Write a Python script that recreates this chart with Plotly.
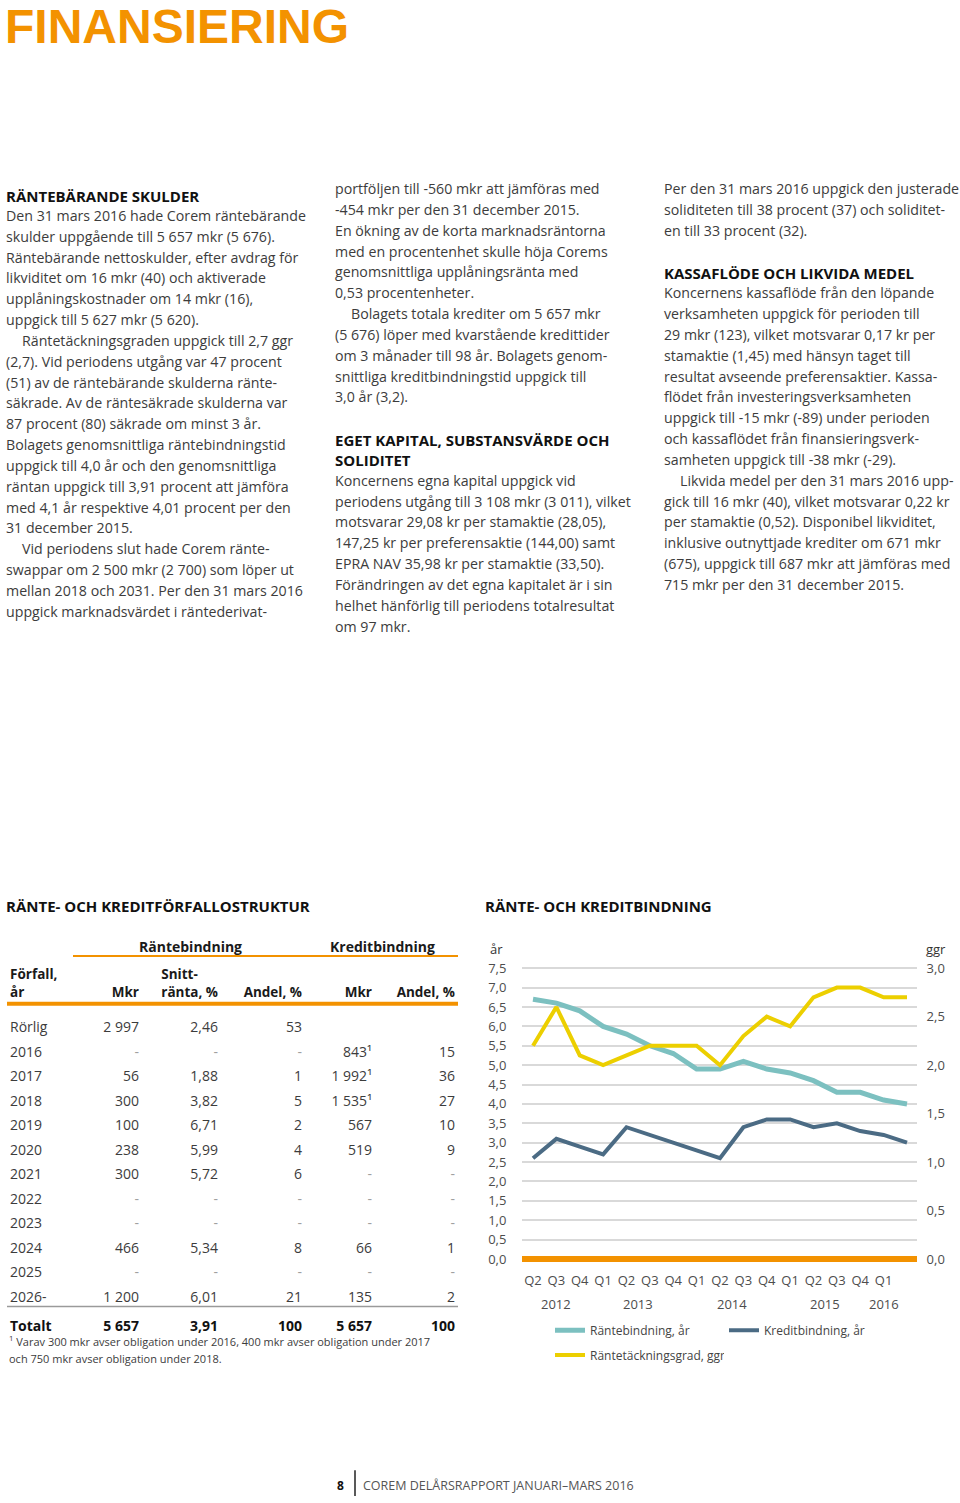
import plotly.graph_objects as go

W, H = 960, 1503

def px(x):
    return x / W

def py(y):
    return 1 - y / H

BODY_FONT = "Open Sans"
BODY_COLOR = "#3c3c3c"
ORANGE = "#f39200"
NB = "\u00a0"

# ---------------- chart data ----------------
quarter_labels = ["Q2", "Q3", "Q4", "Q1", "Q2", "Q3", "Q4", "Q1",
                  "Q2", "Q3", "Q4", "Q1", "Q2", "Q3", "Q4", "Q1"]
quarter_years = [2012, 2012, 2012, 2013, 2013, 2013, 2013, 2014,
                 2014, 2014, 2014, 2015, 2015, 2015, 2015, 2016]
rantebindning = [6.7, 6.6, 6.4, 6.0, 5.8, 5.5, 5.3, 4.9, 4.9, 5.1, 4.9, 4.8, 4.6, 4.3, 4.3, 4.1, 4.0]
kreditbindning = [2.6, 3.1, 2.9, 2.7, 3.4, 3.2, 3.0, 2.8, 2.6, 3.4, 3.6, 3.6, 3.4, 3.5, 3.3, 3.2, 3.0]
rantetackning = [2.2, 2.6, 2.1, 2.0, 2.1, 2.2, 2.2, 2.2, 2.0, 2.3, 2.5, 2.4, 2.7, 2.8, 2.8, 2.7, 2.7]
left_ticks = [0.0, 0.5, 1.0, 1.5, 2.0, 2.5, 3.0, 3.5, 4.0, 4.5, 5.0, 5.5, 6.0, 6.5, 7.0, 7.5]
right_ticks = [0.0, 0.5, 1.0, 1.5, 2.0, 2.5, 3.0]

# ---------------- table data ----------------
forfall = ["Rörlig", "2016", "2017", "2018", "2019", "2020", "2021", "2022", "2023", "2024", "2025", "2026-"]
ranta_mkr = [2997, None, 56, 300, 100, 238, 300, None, None, 466, None, 1200]
snittranta = [2.46, None, 1.88, 3.82, 6.71, 5.99, 5.72, None, None, 5.34, None, 6.01]
ranta_andel = [53, None, 1, 5, 2, 4, 6, None, None, 8, None, 21]
kredit_mkr = ["", 843, 1992, 1535, 567, 519, None, None, None, 66, None, 135]
kredit_note = [False, True, True, True, False, False, False, False, False, False, False, False]
kredit_andel = ["", 15, 36, 27, 10, 9, None, None, None, 1, None, 2]
total_row = ["Totalt", 5657, 3.91, 100, 5657, 100]


def fmt(v, dec=0):
    if v is None:
        return "-"
    if v == "":
        return ""
    if dec:
        return f"{v:.{dec}f}".replace(".", ",")
    return f"{int(v):,}".replace(",", NB)


def bold(s):
    return "<b>" + s + "</b>"


col0 = forfall + [bold(total_row[0])]
col1 = [fmt(v) for v in ranta_mkr] + [bold(fmt(total_row[1]))]
col2 = [fmt(v, 2) for v in snittranta] + [bold(fmt(total_row[2], 2))]
col3 = [fmt(v) for v in ranta_andel] + [bold(fmt(total_row[3]))]
col4 = [fmt(v) + ("\u00b9" if n else "") for v, n in zip(kredit_mkr, kredit_note)] + [bold(fmt(total_row[4]))]
col5 = [fmt(v) for v in kredit_andel] + [bold(fmt(total_row[5]))]
columns = [col0, col1, col2, col3, col4, col5]
cell_colors = [["#a0a0a0" if c == "-" else BODY_COLOR for c in col] for col in columns]
cell_colors[0] = [BODY_COLOR] * len(col0)
cell_colors = [cc[:-1] + ["#111111"] for cc in cell_colors]

header_vals = [bold("Förfall,") + "<br>" + bold("år"), " <br>" + bold("Mkr"),
               bold("Snitt-") + "<br>" + bold("ränta," + NB + "%"),
               " <br>" + bold("Andel," + NB + "%"), " <br>" + bold("Mkr"), " <br>" + bold("Andel," + NB + "%")]

fig = go.Figure()

TBL_LEFT, TBL_RIGHT = 2, 463
TBL_TOP = 958
fig.add_trace(go.Table(
    domain=dict(x=[px(TBL_LEFT), px(TBL_RIGHT)], y=[py(1350), py(TBL_TOP)]),
    columnwidth=[70, 75, 79, 84, 70, 83],
    header=dict(values=header_vals, align=["left", "right", "right", "right", "right", "right"],
                fill_color="white", line=dict(width=0, color="white"), height=57,
                font=dict(family=BODY_FONT, size=13.5, color="#1a1a1a")),
    cells=dict(values=columns,
               align=["left", "right", "right", "right", "right", "right"],
               fill_color="white", line=dict(width=0, color="white"), height=24.5,
               font=dict(family=BODY_FONT, size=14, color=cell_colors)),
))

xs = list(range(len(rantebindning)))
fig.add_trace(go.Scatter(x=xs, y=rantebindning, mode="lines", name="Räntebindning, år",
                         line=dict(color="#7cc0c0", width=5), xaxis="x", yaxis="y", legend="legend"))
fig.add_trace(go.Scatter(x=xs, y=kreditbindning, mode="lines", name="Kreditbindning, år",
                         line=dict(color="#4b6b84", width=4), xaxis="x", yaxis="y", legend="legend"))
fig.add_trace(go.Scatter(x=xs, y=rantetackning, mode="lines", name="Räntetäckningsgrad, ggr",
                         line=dict(color="#eccf00", width=4), xaxis="x", yaxis="y2", legend="legend2"))

PL, PR = 522, 917
PT, PB = 965.4, 1266.2
step = (907 - 533) / 16
x0 = (PL - 533) / step
x1 = (PR - 533) / step

ann = []
shapes = []

def text(x, y, t, size=14.2, color=BODY_COLOR, family=BODY_FONT, xanchor="left", is_bold=False):
    if is_bold:
        t = bold(t)
    ann.append(dict(x=px(x), y=py(y), xref="paper", yref="paper", text=t, showarrow=False,
                    xanchor=xanchor, yanchor="middle", font=dict(size=size, color=color, family=family)))

text(3, 21, "FINANSIERING", size=48, color=ORANGE, family="Liberation Sans", is_bold=True)

col_a = [
    ("h", "RÄNTEBÄRANDE SKULDER"),
    ("t", "Den 31 mars 2016 hade Corem räntebärande"),
    ("t", "skulder uppgående till 5 657 mkr (5 676)."),
    ("t", "Räntebärande nettoskulder, efter avdrag för"),
    ("t", "likviditet om 16 mkr (40) och aktiverade"),
    ("t", "upplåningskostnader om 14 mkr (16),"),
    ("t", "uppgick till 5 627 mkr (5 620)."),
    ("i", "Räntetäckningsgraden uppgick till 2,7 ggr"),
    ("t", "(2,7). Vid periodens utgång var 47 procent"),
    ("t", "(51) av de räntebärande skulderna ränte-"),
    ("t", "säkrade. Av de räntesäkrade skulderna var"),
    ("t", "87 procent (80) säkrade om minst 3 år."),
    ("t", "Bolagets genomsnittliga räntebindningstid"),
    ("t", "uppgick till 4,0 år och den genomsnittliga"),
    ("t", "räntan uppgick till 3,91 procent att jämföra"),
    ("t", "med 4,1 år respektive 4,01 procent per den"),
    ("t", "31 december 2015."),
    ("i", "Vid periodens slut hade Corem ränte-"),
    ("t", "swappar om 2 500 mkr (2 700) som löper ut"),
    ("t", "mellan 2018 och 2031. Per den 31 mars 2016"),
    ("t", "uppgick marknadsvärdet i räntederivat-"),
]
col_b = [
    ("t", "portföljen till -560 mkr att jämföras med"),
    ("t", "-454 mkr per den 31 december 2015."),
    ("t", "En ökning av de korta marknadsräntorna"),
    ("t", "med en procentenhet skulle höja Corems"),
    ("t", "genomsnittliga upplåningsränta med"),
    ("t", "0,53 procentenheter."),
    ("i", "Bolagets totala krediter om 5 657 mkr"),
    ("t", "(5 676) löper med kvarstående kredittider"),
    ("t", "om 3 månader till 98 år. Bolagets genom-"),
    ("t", "snittliga kreditbindningstid uppgick till"),
    ("t", "3,0 år (3,2)."),
    ("", ""),
    ("h", "EGET KAPITAL, SUBSTANSVÄRDE OCH"),
    ("h", "SOLIDITET"),
    ("t", "Koncernens egna kapital uppgick vid"),
    ("t", "periodens utgång till 3 108 mkr (3 011), vilket"),
    ("t", "motsvarar 29,08 kr per stamaktie (28,05),"),
    ("t", "147,25 kr per preferensaktie (144,00) samt"),
    ("t", "EPRA NAV 35,98 kr per stamaktie (33,50)."),
    ("t", "Förändringen av det egna kapitalet är i sin"),
    ("t", "helhet hänförlig till periodens totalresultat"),
    ("t", "om 97 mkr."),
]
col_c = [
    ("t", "Per den 31 mars 2016 uppgick den justerade"),
    ("t", "soliditeten till 38 procent (37) och soliditet-"),
    ("t", "en till 33 procent (32)."),
    ("", ""),
    ("h", "KASSAFLÖDE OCH LIKVIDA MEDEL"),
    ("t", "Koncernens kassaflöde från den löpande"),
    ("t", "verksamheten uppgick för perioden till"),
    ("t", "29 mkr (123), vilket motsvarar 0,17 kr per"),
    ("t", "stamaktie (1,45) med hänsyn taget till"),
    ("t", "resultat avseende preferensaktier. Kassa-"),
    ("t", "flödet från investeringsverksamheten"),
    ("t", "uppgick till -15 mkr (-89) under perioden"),
    ("t", "och kassaflödet från finansieringsverk-"),
    ("t", "samheten uppgick till -38 mkr (-29)."),
    ("i", "Likvida medel per den 31 mars 2016 upp-"),
    ("t", "gick till 16 mkr (40), vilket motsvarar 0,22 kr"),
    ("t", "per stamaktie (0,52). Disponibel likviditet,"),
    ("t", "inklusive outnyttjade krediter om 671 mkr"),
    ("t", "(675), uppgick till 687 mkr att jämföras med"),
    ("t", "715 mkr per den 31 december 2015."),
]
PITCH = 20.98
for lines, x, y0 in [(col_a, 4, 190), (col_b, 333, 184), (col_c, 662, 184)]:
    for i, (kind, t) in enumerate(lines):
        if not kind:
            continue
        y = y0 + i * PITCH
        if kind == "h":
            text(x, y + 1, t, size=15, color="#111111", is_bold=True)
        elif kind == "i":
            text(x + 16, y, t)
        else:
            text(x, y, t)

text(4, 907, "RÄNTE- OCH KREDITFÖRFALLOSTRUKTUR", size=15, color="#111111", is_bold=True)
text(483, 907, "RÄNTE- OCH KREDITBINDNING", size=15, color="#111111", is_bold=True)

text(190, 947, "Räntebindning", size=14, color="#1a1a1a", xanchor="center", is_bold=True)
text(382, 947, "Kreditbindning", size=14, color="#1a1a1a", xanchor="center", is_bold=True)
shapes.append(dict(type="line", xref="paper", yref="paper", x0=px(73), x1=px(458), y0=py(957), y1=py(957),
                   line=dict(color=ORANGE, width=2)))
shapes.append(dict(type="line", xref="paper", yref="paper", x0=px(7), x1=px(458), y0=py(1005), y1=py(1005),
                   line=dict(color=ORANGE, width=4)))
shapes.append(dict(type="line", xref="paper", yref="paper", x0=px(7), x1=px(458), y0=py(1310), y1=py(1310),
                   line=dict(color="#9a9a9a", width=1.5)))
text(7, 1345, "<sup>1</sup> Varav 300 mkr avser obligation under 2016, 400 mkr avser obligation under 2017", size=11)
text(7, 1362, "och 750 mkr avser obligation under 2018.", size=11)

text(488, 950, "år", size=13, color="#333333")
text(948, 950, "ggr", size=13, color="#333333", xanchor="right")

years_unique = []
for yv in quarter_years:
    if yv not in years_unique:
        years_unique.append(yv)
for yv in years_unique:
    idx = [i for i, q in enumerate(quarter_years) if q == yv]
    ann.append(dict(x=sum(idx) / len(idx), y=py(1308), xref="x", yref="paper", text=str(yv),
                    showarrow=False, xanchor="center", yanchor="middle",
                    font=dict(size=13, color="#4d4d4d", family=BODY_FONT)))

text(340, 1490, "8", size=12, color="#111111", xanchor="center", is_bold=True)
shapes.append(dict(type="line", xref="paper", yref="paper", x0=px(355), x1=px(355), y0=py(1475), y1=py(1501),
                   line=dict(color="#222222", width=1.5)))
text(361, 1490, "COREM DELÅRSRAPPORT JANUARI–MARS 2016", size=12.5, color="#555555")

legend_common = dict(orientation="h", xanchor="left", yanchor="middle", entrywidth=129,
                     entrywidthmode="pixels", font=dict(size=12, color="#444444", family=BODY_FONT),
                     bgcolor="rgba(0,0,0,0)")

fig.update_layout(
    width=W, height=H, autosize=False,
    margin=dict(l=0, r=0, t=0, b=0),
    paper_bgcolor="white", plot_bgcolor="white",
    separators=", ",
    font=dict(family=BODY_FONT, color=BODY_COLOR),
    xaxis=dict(domain=[px(PL), px(PR)], range=[x0, x1], tickmode="array",
               tickvals=list(range(len(quarter_labels))), ticktext=quarter_labels, tickangle=0,
               showgrid=False, zeroline=False, showline=False,
               ticks="outside", ticklen=5, tickcolor="rgba(0,0,0,0)",
               tickfont=dict(size=13, color="#4d4d4d"), anchor="y"),
    yaxis=dict(domain=[py(PB), py(PT)], range=[-0.1, 7.6], tickmode="array", tickvals=left_ticks,
               tickformat=".1f", showgrid=True, gridcolor="#d9d9d9", gridwidth=1.5,
               zeroline=True, zerolinecolor=ORANGE, zerolinewidth=6,
               ticks="outside", ticklen=12, tickcolor="rgba(0,0,0,0)",
               tickfont=dict(size=13, color="#4d4d4d"), anchor="x"),
    yaxis2=dict(overlaying="y", side="right", range=[-0.04, 3.04], tickmode="array", tickvals=right_ticks,
                tickformat=".1f", showgrid=False, zeroline=False,
                ticks="outside", ticklen=6, tickcolor="rgba(0,0,0,0)",
                tickfont=dict(size=13, color="#4d4d4d"), anchor="x"),
    legend=dict(x=px(550), y=py(1334), **legend_common),
    legend2=dict(x=px(550), y=py(1359), **legend_common),
    annotations=ann,
    shapes=shapes,
)

fig.write_html("out.html", config={"displayModeBar": False},
               post_script="document.body.style.margin='0';document.body.style.overflow='hidden';")
